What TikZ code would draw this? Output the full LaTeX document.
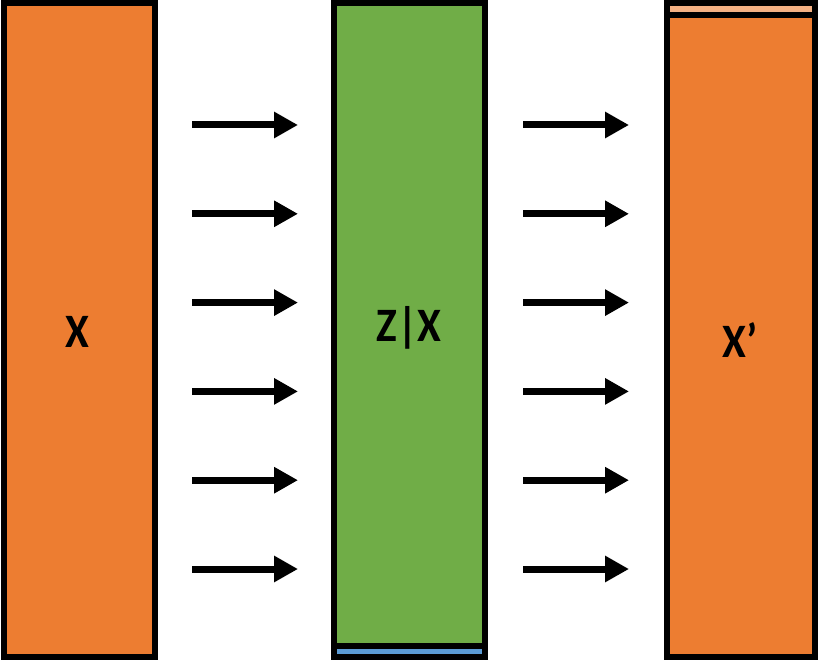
\documentclass[tikz,border=0pt]{standalone}
\usepackage{fontspec}
\setmainfont{Carlito}
\usepackage{tikz}
\usetikzlibrary{arrows.meta}
\usepackage{xcolor}
\definecolor{boxorange}{HTML}{ED7D31}
\definecolor{boxgreen}{HTML}{70AD47}
\definecolor{boxblue}{HTML}{5B9BD5}
\definecolor{boxpeach}{HTML}{F4B183}

\begin{document}
\begin{tikzpicture}[x=1pt,y=-1pt,line width=6pt,
  font=\fontsize{48}{52}\selectfont\bfseries,
  cell/.style={draw=black,line width=6pt,rectangle,inner sep=0pt,outer sep=0pt,anchor=north west},
  lab/.style={xscale=0.9},
  arr/.style={-{Triangle[length=24pt,width=25pt]},line width=7pt}]
\useasboundingbox (0,0) rectangle (818,660);
% encoder input
\node[cell,fill=boxorange,minimum width=151pt,minimum height=653.5pt] (inx) at (3.5,3.5) {};
\node[lab] at (77,332) (lx) {X};
% latent
\node[cell,fill=boxgreen,minimum width=151pt,minimum height=642.5pt] (zx) at (334,3.5) {};
\node[cell,fill=boxblue,minimum width=151pt,minimum height=11pt] (zpad) at (zx.south west) {};
\node[lab] at (409,328) (lz) {Z|X};
% reconstruction
\node[cell,fill=boxpeach,minimum width=148pt,minimum height=11.5pt] (xpad) at (667,3.5) {};
\node[cell,fill=boxorange,minimum width=148pt,minimum height=642pt] (outx) at (xpad.south west) {};
\node[lab] at (740,340) (lxp) {X’};
% arrows
\foreach \i/\y in {1/125,2/213.8,3/302.6,4/391.4,5/480.2,6/569}{
  \coordinate (a\i) at (192,\y);
  \coordinate (b\i) at (298,\y);
  \coordinate (c\i) at (523,\y);
  \coordinate (d\i) at (629,\y);
  \draw[arr] (a\i) -- (b\i);
  \draw[arr] (c\i) -- (d\i);
}
\end{tikzpicture}
\end{document}
